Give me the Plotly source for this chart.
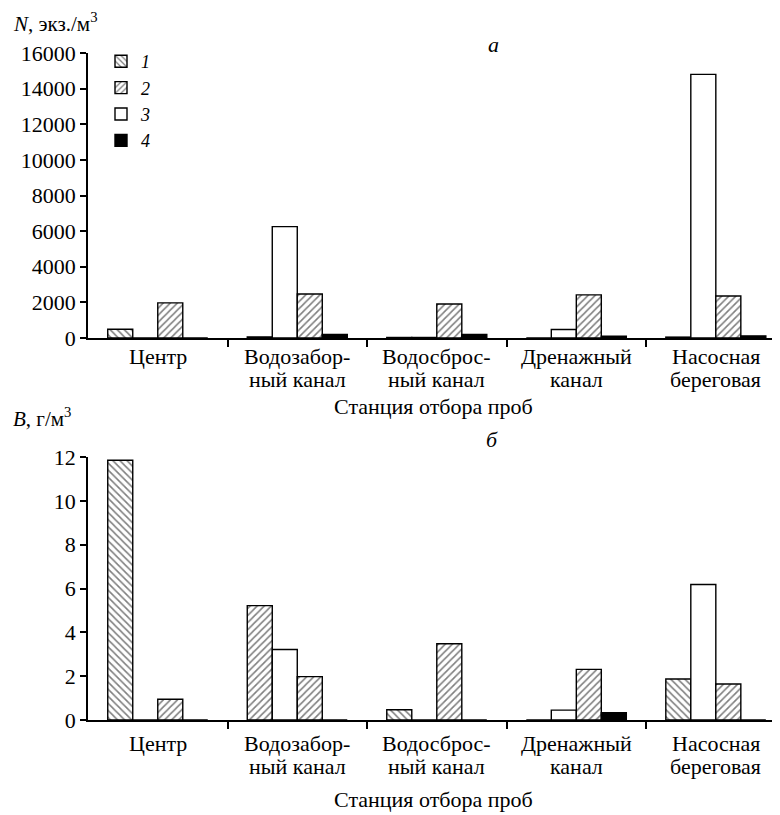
import plotly.graph_objects as go

# ---------------- data ----------------
stations = ["Центр", "Водозабор-<br>ный канал", "Водосброс-<br>ный канал",
            "Дренажный<br>канал", "Насосная<br>береговая"]
series_names = ["1", "2", "3", "4"]

# a) abundance N, ind./m3
N1 = [490, 60, 30, 0, 50]
N2 = [1970, 2470, 1910, 2420, 2360]
N3 = [0, 6250, 30, 480, 14800]
N4 = [0, 200, 200, 100, 120]

# b) biomass B, g/m3
B1 = [11.85, 5.22, 0.47, 0, 1.87]
B2 = [0.95, 1.98, 3.48, 2.31, 1.64]
B3 = [0, 3.22, 0, 0.45, 6.18]
B4 = [0, 0, 0, 0.33, 0]

yticks_N = [0, 2000, 4000, 6000, 8000, 10000, 12000, 14000, 16000]
yticks_B = [0, 2, 4, 6, 8, 10, 12]

# ---------------- styling ----------------
# page has an 8px body margin; figure occupies page x 8..780, y 8..815
OFF = 8
W, H = 780 - OFF, 815 - OFF
AX_X = 88                      # page x of the y axes
FONT = "Liberation Serif, DejaVu Serif, Times New Roman, serif"
FS = 22


def px(xp):
    return (xp - AX_X) / (780 - AX_X)


def py(yp):
    return 1 - (yp - OFF) / H


x = list(range(len(stations)))
B1_shapes = ["\\", "/", "\\", "\\", "\\"]  # as printed in the source figure


def bar(xa, ya, vals, kind, name, show, rank, shapes=None):
    line = dict(color="black", width=1.4)
    pat = dict(fgcolor="black", bgcolor="white", size=5, solidity=0.32, fillmode="overlay")
    if kind == "back":
        marker = dict(color="white", line=line, pattern=dict(shape=shapes if shapes else "\\", **pat))
    elif kind == "fwd":
        marker = dict(color="white", line=line, pattern=dict(shape="/", **pat))
    elif kind == "white":
        marker = dict(color="white", line=line)
    else:
        marker = dict(color="black", line=line)
    return go.Bar(x=x, y=vals, xaxis=xa, yaxis=ya, marker=marker, name=name,
                  showlegend=show, legendrank=rank, legendgroup="g" + name)


fig = go.Figure()
# order of bars within a group: 1, 3, 2, 4
fig.add_trace(bar("x", "y", N1, "back", series_names[0], True, 1))
fig.add_trace(bar("x", "y", N3, "white", series_names[2], True, 3))
fig.add_trace(bar("x", "y", N2, "fwd", series_names[1], True, 2))
fig.add_trace(bar("x", "y", N4, "black", series_names[3], True, 4))

fig.add_trace(bar("x2", "y2", B1, "back", series_names[0], False, 1, B1_shapes))
fig.add_trace(bar("x2", "y2", B3, "white", series_names[2], False, 3))
fig.add_trace(bar("x2", "y2", B2, "fwd", series_names[1], False, 2))
fig.add_trace(bar("x2", "y2", B4, "black", series_names[3], False, 4))

tickfont = dict(family=FONT, size=FS, color="black")

xcommon = dict(range=[-0.5, 4.46], showline=True, linecolor="black", linewidth=1.5,
               tickmode="array", tickvals=x, showticklabels=False, ticks="",
               showgrid=False, zeroline=False, automargin=False,
               minor=dict(tickmode="array", tickvals=[0.5, 1.5, 2.5, 3.5], ticks="outside",
                          ticklen=7, tickwidth=1.5, tickcolor="black", showgrid=False))
ycommon = dict(showline=True, linecolor="black", linewidth=1.5, ticks="outside",
               ticklen=6, tickwidth=1.5, tickcolor="black", tickfont=tickfont,
               showgrid=False, zeroline=False, tickmode="array", automargin=False)

top_dom = [py(338), py(53)]
bot_dom = [py(720), py(457)]

fig.update_layout(
    width=W, height=H,
    margin=dict(l=AX_X - OFF, r=0, t=0, b=0),
    paper_bgcolor="white", plot_bgcolor="white",
    barmode="group", bargap=0.283, bargroupgap=0,
    font=dict(family=FONT, color="black"),
    xaxis=dict(domain=[0, 1], anchor="y", **xcommon),
    xaxis2=dict(domain=[0, 1], anchor="y2", **xcommon),
    yaxis=dict(domain=top_dom, anchor="x", range=[0, 16000], tickvals=yticks_N,
               ticktext=[str(v) for v in yticks_N], **ycommon),
    yaxis2=dict(domain=bot_dom, anchor="x2", range=[0, 12], tickvals=yticks_B,
                ticktext=[str(v) for v in yticks_B], **ycommon),
    legend=dict(x=px(101), y=py(43), xanchor="left", yanchor="top",
                font=dict(family=FONT, size=18, color="black", style="italic"),
                bgcolor="rgba(0,0,0,0)", tracegroupgap=0, itemwidth=30),
)

ann_font = dict(family=FONT, size=FS, color="black")
annotations = [
    dict(text="<i>N</i>, экз./м<sup>3</sup>", x=px(11), y=py(22), xanchor="left", yanchor="middle",
         font=dict(family=FONT, size=21, color="black")),
    dict(text="<i>а</i>", x=px(493), y=py(44), xanchor="center", yanchor="middle"),
    dict(text="Станция отбора проб", x=px(433), y=py(406), xanchor="center", yanchor="middle"),
    dict(text="<i>B</i>, г/м<sup>3</sup>", x=px(11), y=py(417), xanchor="left", yanchor="middle",
         font=dict(family=FONT, size=21, color="black")),
    dict(text="<i>б</i>", x=px(492), y=py(440), xanchor="center", yanchor="middle"),
    dict(text="Станция отбора проб", x=px(433), y=py(799), xanchor="center", yanchor="middle"),
]
for a in annotations:
    a.setdefault("font", ann_font)
    fig.add_annotation(xref="paper", yref="paper", showarrow=False, **a)

# category labels, one annotation per printed line (tight line spacing as in the print)
for xa, first_y in (("x", 356), ("x2", 743)):
    for i, lab in enumerate(stations):
        for k, part in enumerate(lab.split("<br>")):
            fig.add_annotation(xref=xa, yref="paper", x=i, y=py(first_y + 23 * k),
                               text=part, showarrow=False, font=ann_font,
                               xanchor="center", yanchor="middle")

fig.write_html("out.html")
